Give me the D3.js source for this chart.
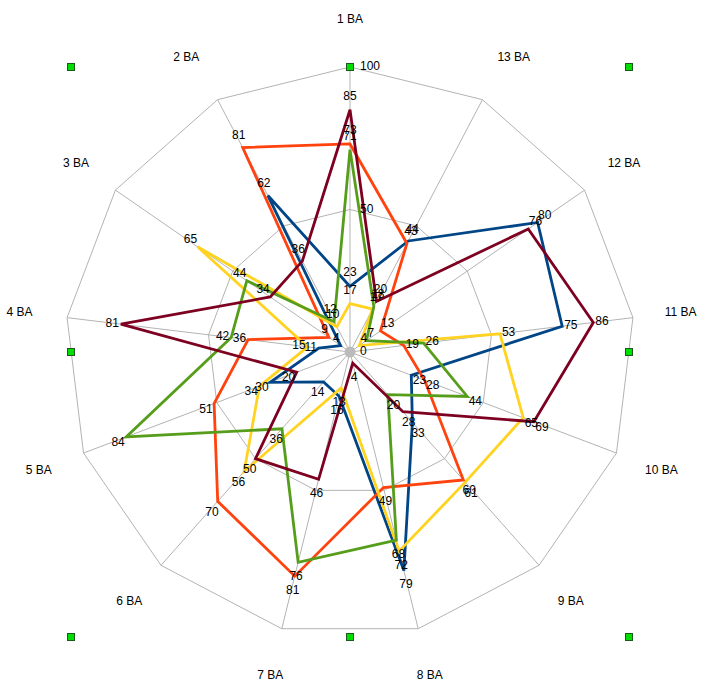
<!DOCTYPE html>
<html><head><meta charset="utf-8">
<script src="https://cdn.jsdelivr.net/npm/d3@7/dist/d3.min.js"></script>
<style>
html,body{margin:0;padding:0;background:#fff;}
svg{display:block;font-family:"Liberation Sans",Arial,sans-serif;}
</style></head>
<body>
<svg id="chart" width="712" height="684"></svg>
<script>
const categories = ["1 BA","2 BA","3 BA","4 BA","5 BA","6 BA","7 BA","8 BA","9 BA","10 BA","11 BA","12 BA","13 BA"];
const seriesNames = ["Series 1","Series 2","Series 3","Series 4","Series 5"];
const seriesColors = ["#004586","#ff420e","#ffd320","#579d1c","#7e0021"];
const blueValues   = [23,62,4,11,30,14,16,79,33,23,75,80,44];
const orangeValues = [73,81,9,36,51,70,81,49,60,28,19,13,43];
const yellowValues = [17,10,65,15,34,56,13,72,61,65,53,4,17];
const greenValues  = [71,12,44,42,84,36,76,68,20,44,26,7,18];
const maroonValues = [85,36,34,81,20,50,46,4,28,69,86,76,20];
const scaleTicks = [0,50,100];
const allSeries = [blueValues, orangeValues, yellowValues, greenValues, maroonValues];

const svg = d3.select("#chart");
const cx = 350, cy = 352, R = 285;
const r = d3.scaleLinear().domain([0,100]).range([0,R]);
const ang = d3.scaleLinear().domain([0,categories.length]).range([0,-2*Math.PI]);
const g = svg.append("g").attr("transform",`translate(${cx},${cy})`);

const px = (a,rad)=> rad*Math.sin(a), py = (a,rad)=> -rad*Math.cos(a);

// grid rings
const gridColor = "#b3b3b3";
scaleTicks.filter(t=>t>0).forEach(t=>{
  g.append("path")
    .attr("d", d3.lineRadial().angle((d,i)=>ang(i)).radius(()=>r(t)).curve(d3.curveLinearClosed)(categories))
    .attr("fill","none").attr("stroke",gridColor).attr("stroke-width",1);
});
// spokes
categories.forEach((c,i)=>{
  const a = ang(i);
  g.append("line").attr("x1",0).attr("y1",0).attr("x2",px(a,r(100))).attr("y2",py(a,r(100)))
    .attr("stroke",gridColor).attr("stroke-width",1);
});
g.append("circle").attr("r",5.5).attr("fill","#bbbbbb");

// category labels
categories.forEach((c,i)=>{
  const a = ang(i);
  const dx = Math.sin(a), dy = -Math.cos(a);
  const extra = (Math.abs(dy) > 0.8 && Math.abs(dy) < 0.95) ? Math.sign(dx)*9 : 0;
  g.append("text").attr("x",px(a,333)+extra).attr("y",py(a,333))
    .attr("text-anchor","middle").attr("dominant-baseline","central")
    .attr("font-size",12).attr("fill","#000").text(c);
});

// series lines
const line = d3.lineRadial().angle((d,i)=>ang(i)).radius(d=>r(d)).curve(d3.curveLinearClosed);
allSeries.forEach((vals,si)=>{
  g.append("path").attr("d",line(vals)).attr("fill","none")
    .attr("stroke",seriesColors[si]).attr("stroke-width",2.8).attr("stroke-linejoin","miter");
});

// scale labels
scaleTicks.forEach(t=>{
  g.append("text").attr("x",10).attr("y",-r(t)-1)
    .attr("dominant-baseline","central").attr("font-size",12).text(t);
});

// data labels
allSeries.forEach((vals,si)=>{
  vals.forEach((v,i)=>{
    const a = ang(i);
    const dx = Math.sin(a), dy = -Math.cos(a);
    const x0 = px(a,r(v)), y0 = py(a,r(v));
    const t = g.append("text").attr("font-size",12).attr("text-anchor","middle")
      .attr("dominant-baseline","central").text(v);
    const w = t.node().getComputedTextLength();
    t.attr("x", x0 + dx*(w/2+2)).attr("y", y0 + dy*(6+8));
  });
});

// selection handles
const hx = [cx-279, cx, cx+279], hy = [cy-285, cy, cy+285];
hy.forEach((yy,j)=>hx.forEach((xx,k)=>{
  if(j===1 && k===1) return;
  svg.append("rect").attr("x",xx-3.5).attr("y",yy-3.5).attr("width",7).attr("height",7)
    .attr("fill","#00dd00").attr("stroke","#1a5a1a").attr("stroke-width",1);
}));
</script>
</body></html>
